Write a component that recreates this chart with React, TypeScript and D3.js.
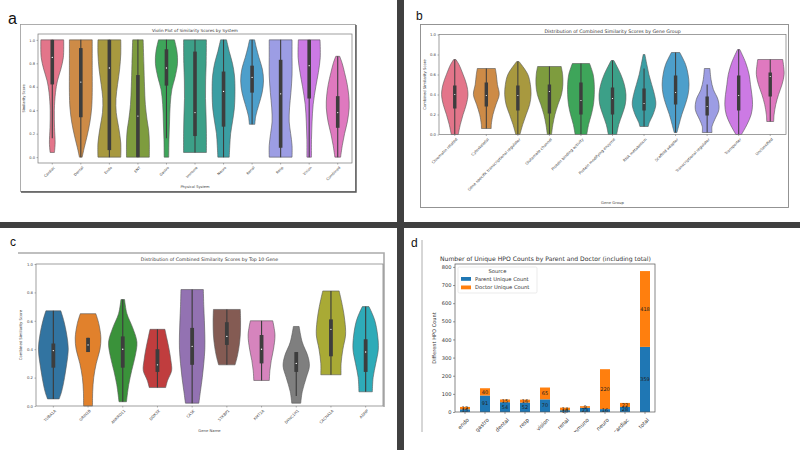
import React, { useEffect, useRef } from "react";
import * as d3 from "d3";

// ---- panel a: similarity by physical system ----
const systems = ["Cardiac", "Dental", "Endo", "ENT", "Gastro", "Immune", "Neuro", "Renal", "Resp", "Vision", "Combined"];
const huslColors = ["#e3758a", "#cd8b47", "#a8993f", "#7e9c3e", "#3ea55a", "#3ca088", "#3b9ea3", "#4d9fcb", "#9c9de4", "#cc7ae4", "#df79bf"];
// [value, relative half width]
const systemProfiles = [
  [[0.04, 0.19], [0.12, 0.25], [0.25, 0.2], [0.4, 0.18], [0.55, 0.28], [0.65, 0.45], [0.75, 0.75], [0.85, 0.97], [1.0, 1]],
  [[0, 0.12], [0.08, 0.3], [0.18, 0.55], [0.3, 0.8], [0.42, 0.95], [0.55, 1], [0.75, 1], [1, 1]],
  [[0, 1], [0.12, 1], [0.25, 0.82], [0.38, 0.6], [0.5, 0.58], [0.62, 0.72], [0.75, 0.9], [0.88, 1], [1, 1]],
  [[0, 1], [0.12, 1], [0.22, 0.95], [0.32, 0.8], [0.45, 0.65], [0.6, 0.58], [0.8, 0.52], [1, 0.46]],
  [[0, 0.2], [0.15, 0.22], [0.3, 0.27], [0.45, 0.33], [0.58, 0.48], [0.68, 0.75], [0.8, 0.97], [0.9, 0.92], [1, 0.7]],
  [[0.04, 1], [0.2, 1], [0.35, 0.97], [0.5, 0.92], [0.65, 0.93], [0.8, 0.98], [1, 1]],
  [[0, 0.5], [0.1, 0.55], [0.2, 0.62], [0.3, 0.78], [0.42, 0.95], [0.6, 1], [0.7, 0.95], [0.8, 0.78], [0.9, 0.5], [1, 0.26]],
  [[0.28, 0.24], [0.35, 0.32], [0.45, 0.6], [0.55, 0.88], [0.65, 1], [0.75, 0.9], [0.85, 0.6], [0.93, 0.38], [1, 0.22]],
  [[0, 1], [0.1, 1], [0.2, 0.88], [0.3, 0.75], [0.42, 0.78], [0.55, 0.9], [0.7, 1], [0.85, 1], [1, 1]],
  [[0, 0.2], [0.15, 0.2], [0.3, 0.25], [0.45, 0.35], [0.6, 0.58], [0.72, 0.8], [0.85, 0.97], [1, 0.95]],
  [[0, 0.25], [0.1, 0.4], [0.2, 0.6], [0.3, 0.84], [0.42, 1], [0.52, 0.97], [0.62, 0.83], [0.72, 0.6], [0.8, 0.39], [0.86, 0.17]],
];
// [whisker low, q1, median, q3, whisker high]
const systemBoxes = [
  [0.16, 0.62, 0.85, 1.0, 1.0], [0, 0.34, 0.64, 0.93, 1], [0, 0.06, 0.76, 1, 1], [0, 0, 0.35, 0.7, 1],
  [0.16, 0.61, 0.76, 0.92, 1], [0.04, 0.18, 0.38, 0.9, 1], [0, 0.26, 0.56, 0.73, 1], [0.28, 0.55, 0.68, 0.78, 1],
  [0, 0.08, 0.54, 0.83, 1], [0, 0.5, 0.78, 1, 1], [0, 0.25, 0.38, 0.52, 0.86],
];

// ---- panel b: by gene group ----
const geneGroups = ["Chromatin related", "Cytoskeletal", "Gene specific transcriptional regulator", "Glutamate channel",
  "Protein binding activity", "Protein modifying enzyme", "RNA metabolism", "Scaffold adaptor",
  "Transcriptional regulator", "Transporter", "Unclassified"];
const groupProfiles = [
  [[0, 0.25], [0.1, 0.4], [0.2, 0.6], [0.3, 0.83], [0.4, 0.95], [0.5, 0.85], [0.6, 0.6], [0.7, 0.3], [0.75, 0.08]],
  [[0.06, 0.35], [0.1, 0.36], [0.2, 0.48], [0.3, 0.7], [0.4, 0.93], [0.5, 0.8], [0.6, 0.72], [0.66, 0.65]],
  [[0, 0.15], [0.1, 0.35], [0.2, 0.6], [0.3, 0.85], [0.4, 0.95], [0.5, 0.9], [0.6, 0.72], [0.7, 0.25], [0.73, 0.08]],
  [[0, 0.15], [0.1, 0.25], [0.2, 0.4], [0.3, 0.62], [0.4, 0.87], [0.5, 0.97], [0.6, 0.95], [0.68, 0.85]],
  [[0, 0.42], [0.1, 0.55], [0.2, 0.75], [0.3, 0.9], [0.4, 0.96], [0.5, 0.96], [0.6, 0.88], [0.71, 0.62]],
  [[0, 0.3], [0.1, 0.45], [0.2, 0.7], [0.3, 0.92], [0.4, 0.97], [0.5, 0.85], [0.6, 0.6], [0.7, 0.25], [0.74, 0.1]],
  [[0.08, 0.3], [0.12, 0.38], [0.2, 0.65], [0.3, 0.85], [0.4, 0.75], [0.5, 0.55], [0.6, 0.35], [0.7, 0.2], [0.8, 0.06]],
  [[0.02, 0.1], [0.1, 0.25], [0.2, 0.45], [0.3, 0.7], [0.4, 0.9], [0.5, 0.97], [0.6, 0.9], [0.7, 0.72], [0.82, 0.3]],
  [[0.02, 0.35], [0.08, 0.35], [0.15, 0.55], [0.25, 0.85], [0.35, 0.78], [0.45, 0.45], [0.55, 0.28], [0.66, 0.2]],
  [[0, 0.2], [0.1, 0.6], [0.2, 0.9], [0.3, 1], [0.4, 0.95], [0.5, 0.85], [0.6, 0.75], [0.72, 0.5], [0.85, 0.08]],
  [[0.13, 0.25], [0.2, 0.28], [0.3, 0.4], [0.4, 0.6], [0.5, 0.85], [0.6, 1], [0.7, 0.95], [0.75, 0.9]],
];
const groupBoxes = [
  [0, 0.26, 0.4, 0.49, 0.75], [0.06, 0.28, 0.39, 0.52, 0.66], [0, 0.24, 0.39, 0.49, 0.73], [0, 0.21, 0.43, 0.5, 0.68],
  [0, 0.2, 0.34, 0.52, 0.71], [0, 0.2, 0.36, 0.47, 0.74], [0.08, 0.24, 0.31, 0.46, 0.66], [0.02, 0.3, 0.42, 0.59, 0.82],
  [0.02, 0.19, 0.28, 0.38, 0.5], [0, 0.24, 0.39, 0.59, 0.85], [0.13, 0.38, 0.58, 0.62, 0.75],
];

// ---- panel c: top 10 genes ----
const genes = ["TUBA1A", "GRIN2B", "ANKRD11", "DDX3X", "CASK", "STXBP1", "KMT2A", "DYNC1H1", "CACNA1A", "ADNP"];
const tabColors = ["#3274a1", "#e1812c", "#3a923a", "#c03d3e", "#9372b2", "#845b53", "#d684bd", "#7f7f7f", "#a9aa35", "#2eabb8"];
const geneProfiles = [
  [[0.05, 0.39], [0.1, 0.55], [0.2, 0.75], [0.3, 0.9], [0.4, 1], [0.5, 0.9], [0.6, 0.7], [0.67, 0.5]],
  [[0, 0.3], [0.1, 0.31], [0.2, 0.38], [0.3, 0.55], [0.4, 0.8], [0.48, 0.86], [0.58, 0.72], [0.65, 0.52]],
  [[0.03, 0.25], [0.15, 0.4], [0.25, 0.6], [0.35, 0.83], [0.45, 0.95], [0.55, 0.67], [0.65, 0.28], [0.75, 0.12]],
  [[0.13, 0.55], [0.18, 0.68], [0.25, 0.95], [0.32, 0.9], [0.4, 0.78], [0.48, 0.62], [0.54, 0.5]],
  [[0.02, 0.45], [0.1, 0.55], [0.2, 0.68], [0.3, 0.78], [0.4, 0.85], [0.5, 0.85], [0.6, 0.82], [0.7, 0.78], [0.82, 0.75]],
  [[0.29, 0.55], [0.35, 0.7], [0.42, 0.82], [0.5, 0.9], [0.6, 0.92], [0.68, 0.9]],
  [[0.18, 0.52], [0.25, 0.56], [0.32, 0.65], [0.4, 0.8], [0.5, 0.9], [0.6, 0.75]],
  [[0.02, 0.3], [0.1, 0.4], [0.2, 0.67], [0.28, 0.88], [0.35, 0.78], [0.45, 0.4], [0.56, 0.19]],
  [[0.22, 0.68], [0.3, 0.68], [0.4, 0.8], [0.5, 0.98], [0.6, 0.93], [0.7, 0.78], [0.81, 0.55]],
  [[0.1, 0.45], [0.2, 0.5], [0.3, 0.68], [0.4, 0.85], [0.5, 0.8], [0.6, 0.62], [0.66, 0.4], [0.7, 0.22]],
];
const geneBoxes = [
  [0.05, 0.27, 0.39, 0.44, 0.67], [0.38, 0.38, 0.43, 0.48, 0.48], [0.03, 0.27, 0.4, 0.49, 0.75], [0.13, 0.24, 0.29, 0.4, 0.54],
  [0.02, 0.29, 0.42, 0.55, 0.82], [0.29, 0.43, 0.49, 0.59, 0.68], [0.18, 0.3, 0.4, 0.5, 0.6], [0.07, 0.24, 0.3, 0.38, 0.38],
  [0.22, 0.35, 0.54, 0.61, 0.81], [0.1, 0.24, 0.38, 0.47, 0.7],
];

// ---- panel d: unique HPO counts ----
const hpoSystems = ["endo", "gastro", "dental", "resp", "vision", "renal", "immuno", "neuro", "cardiac", "total"];
const parentCounts = [15, 91, 54, 52, 70, 10, 23, 16, 28, 359];
const doctorCounts = [13, 40, 15, 16, 65, 14, 9, 220, 22, 418];
const hpoKeys = ["Parent Unique Count", "Doctor Unique Count"];
const hpoColors = ["#1f77b4", "#ff7f0e"];
const hpoTicks = [0, 100, 200, 300, 400, 500, 600, 700, 800];
const unitTicks = [0, 0.2, 0.4, 0.6, 0.8, 1.0];

const FONT = "DejaVu Sans, sans-serif";

function drawViolinPanel(svg: any, o: any) {
  const g = svg.append("g");
  const x = d3.scaleBand().domain(o.cats).range([o.left, o.right]);
  const y = d3.scaleLinear().domain(o.yDomain).range([o.bottom, o.top]);
  const hw = x.bandwidth() * o.widthFrac;
  const bw = o.boxW;

  o.cats.forEach((c: string, i: number) => {
    const cx = (x(c) as number) + x.bandwidth() / 2;
    const area = d3
      .area<number[]>()
      .y((d) => y(d[0]))
      .x0((d) => cx - d[1] * hw)
      .x1((d) => cx + d[1] * hw)
      .curve(d3.curveCatmullRom.alpha(0.5));
    g.append("path")
      .attr("d", area(o.profiles[i]))
      .attr("fill", o.colors[i])
      .attr("stroke", "#555")
      .attr("stroke-width", 0.6);
    const [lo, q1, med, q3, hi] = o.boxes[i];
    g.append("line")
      .attr("x1", cx).attr("x2", cx)
      .attr("y1", y(lo)).attr("y2", y(hi))
      .attr("stroke", "#3d3d3d")
      .attr("stroke-width", bw * 0.3);
    g.append("rect")
      .attr("x", cx - bw / 2)
      .attr("width", bw)
      .attr("y", y(q3))
      .attr("height", Math.max(0.5, y(q1) - y(q3)))
      .attr("fill", "#3d3d3d");
    g.append("circle")
      .attr("cx", cx).attr("cy", y(med))
      .attr("r", bw * 0.18)
      .attr("fill", "white");
  });

  g.append("rect")
    .attr("x", o.left).attr("y", o.top)
    .attr("width", o.right - o.left).attr("height", o.bottom - o.top)
    .attr("fill", "none").attr("stroke", "#777").attr("stroke-width", 0.7);

  const ya = g.append("g")
    .attr("transform", `translate(${o.left},0)`)
    .call(d3.axisLeft(y).tickValues(unitTicks).tickFormat(d3.format(".1f")).tickSize(1.5).tickPadding(1.5));
  ya.select(".domain").remove();
  ya.selectAll("line").attr("stroke", "#666").attr("stroke-width", 0.5);
  ya.selectAll("text").attr("font-size", o.fs).attr("font-family", FONT).attr("fill", "#444");

  const xa = g.append("g")
    .attr("transform", `translate(0,${o.bottom})`)
    .call(d3.axisBottom(x).tickSize(1.5));
  xa.select(".domain").remove();
  xa.selectAll("line").attr("stroke", "#666").attr("stroke-width", 0.5);
  xa.selectAll("text")
    .attr("y", 0).attr("x", 0).attr("dy", "0.35em")
    .attr("transform", `translate(2,${o.fs * 1.1}) rotate(-45)`)
    .attr("text-anchor", "end")
    .attr("font-size", o.fs).attr("font-family", FONT).attr("fill", "#444");

  g.append("text")
    .attr("x", (o.left + o.right) / 2).attr("y", o.titleY)
    .attr("text-anchor", "middle")
    .attr("font-size", o.titleFs).attr("font-family", FONT).attr("fill", "#333")
    .text(o.title);
  g.append("text")
    .attr("x", (o.left + o.right) / 2).attr("y", o.xLabelY)
    .attr("text-anchor", "middle")
    .attr("font-size", o.fs).attr("font-family", FONT).attr("fill", "#444")
    .text(o.xLabel);
  g.append("text")
    .attr("transform", `translate(${o.yLabelX},${(o.top + o.bottom) / 2}) rotate(-90)`)
    .attr("text-anchor", "middle")
    .attr("font-size", o.fs).attr("font-family", FONT).attr("fill", "#444")
    .text(o.yLabel);
}

function drawBars(svg: any) {
  const left = 455, right = 655, top = 264, bottom = 412;
  svg.append("defs").append("clipPath").attr("id", "clipd")
    .append("rect").attr("x", 404).attr("y", 228).attr("width", 396).attr("height", 204);
  const g = svg.append("g").attr("clip-path", "url(#clipd)");

  const table = hpoSystems.map((s, i) => ({ name: s, [hpoKeys[0]]: parentCounts[i], [hpoKeys[1]]: doctorCounts[i] }));
  const stacked = d3.stack<any>().keys(hpoKeys)(table);
  const x = d3.scaleBand().domain(hpoSystems).range([left, right]).paddingInner(0.5).paddingOuter(0.25);
  const y = d3.scaleLinear().domain([0, 816]).range([bottom, top]);

  stacked.forEach((layer: any, k: number) => {
    g.selectAll(null)
      .data(layer)
      .join("rect")
      .attr("x", (d: any) => x(d.data.name))
      .attr("width", x.bandwidth())
      .attr("y", (d: any) => y(d[1]))
      .attr("height", (d: any) => y(d[0]) - y(d[1]))
      .attr("fill", hpoColors[k]);
  });
  // segment labels, centred in each stack segment
  stacked.forEach((layer: any) => {
    g.selectAll(null)
      .data(layer)
      .join("text")
      .attr("x", (d: any) => (x(d.data.name) as number) + x.bandwidth() / 2)
      .attr("y", (d: any) => (y(d[0]) + y(d[1])) / 2)
      .attr("dy", "0.35em")
      .attr("text-anchor", "middle")
      .attr("font-size", 5).attr("font-family", FONT).attr("fill", "#222")
      .text((d: any) => d[1] - d[0]);
  });

  g.append("rect")
    .attr("x", left).attr("y", top).attr("width", right - left).attr("height", bottom - top)
    .attr("fill", "none").attr("stroke", "#555").attr("stroke-width", 0.7);

  const ya = g.append("g").attr("transform", `translate(${left},0)`)
    .call(d3.axisLeft(y).tickValues(hpoTicks).tickSize(2).tickPadding(1.5));
  ya.select(".domain").remove();
  ya.selectAll("line").attr("stroke", "#555").attr("stroke-width", 0.6);
  ya.selectAll("text").attr("font-size", 5.1).attr("font-family", FONT).attr("fill", "#333");

  const xa = g.append("g").attr("transform", `translate(0,${bottom})`)
    .call(d3.axisBottom(x).tickSize(2));
  xa.select(".domain").remove();
  xa.selectAll("line").attr("stroke", "#555").attr("stroke-width", 0.6);
  xa.selectAll("text")
    .attr("y", 0).attr("x", 0).attr("dy", "0.35em")
    .attr("transform", "translate(3,7) rotate(-45)")
    .attr("text-anchor", "end")
    .attr("font-size", 5.3).attr("font-family", FONT).attr("fill", "#333");

  g.append("text")
    .attr("x", 440).attr("y", 260.5)
    .attr("font-size", 6.1).attr("font-family", FONT).attr("fill", "#333")
    .text("Number of Unique HPO Counts by Parent and Doctor (including total)");
  g.append("text")
    .attr("transform", `translate(436,338) rotate(-90)`)
    .attr("text-anchor", "middle")
    .attr("font-size", 5.1).attr("font-family", FONT).attr("fill", "#333")
    .text("Different HPO Count");

  // legend
  const lg = g.append("g");
  lg.append("rect").attr("x", 458).attr("y", 267).attr("width", 79).attr("height", 26).attr("rx", 1.5)
    .attr("fill", "white").attr("stroke", "#ddd").attr("stroke-width", 0.6);
  lg.append("text").attr("x", 497.5).attr("y", 273).attr("text-anchor", "middle")
    .attr("font-size", 5.2).attr("font-family", FONT).attr("fill", "#333").text("Source");
  hpoKeys.forEach((k, i) => {
    lg.append("rect").attr("x", 461).attr("y", 277 + i * 8.5).attr("width", 10).attr("height", 3.8).attr("fill", hpoColors[i]);
    lg.append("text").attr("x", 475).attr("y", 279 + i * 8.5).attr("dy", "0.35em")
      .attr("font-size", 5.2).attr("font-family", FONT).attr("fill", "#333").text(k);
  });

  svg.append("line").attr("x1", 422).attr("x2", 422).attr("y1", 240).attr("y2", 432)
    .attr("stroke", "#999").attr("stroke-width", 0.8);
}

export default function App() {
  const ref = useRef<SVGSVGElement>(null);

  useEffect(() => {
    const svg = d3.select(ref.current);
    svg.selectAll("*").remove();
    svg.append("rect").attr("width", 800).attr("height", 450).attr("fill", "white");

    // panel a frame
    svg.append("rect").attr("x", 20.5).attr("y", 24.5).attr("width", 335).attr("height", 167)
      .attr("fill", "white").attr("stroke", "#999").attr("stroke-width", 0.8);
    svg.append("path").attr("d", "M21,192 H356 V25").attr("fill", "none").attr("stroke", "#555").attr("stroke-width", 1.4);
    drawViolinPanel(svg, {
      cats: systems, colors: huslColors, profiles: systemProfiles, boxes: systemBoxes,
      left: 38, right: 352, top: 34, bottom: 163, yDomain: [-0.05, 1.05], widthFrac: 0.4, boxW: 3.6,
      fs: 3.6, titleFs: 4.2, title: "Violin Plot of Similarity Scores by System", titleY: 32,
      xLabel: "Physical System", xLabelY: 188, yLabel: "Similarity Score", yLabelX: 25,
    });

    // panel b frame
    svg.append("rect").attr("x", 420.5).attr("y", 24.5).attr("width", 368).attr("height", 183)
      .attr("fill", "white").attr("stroke", "#888").attr("stroke-width", 0.9);
    drawViolinPanel(svg, {
      cats: geneGroups, colors: huslColors, profiles: groupProfiles, boxes: groupBoxes,
      left: 439, right: 786, top: 34.5, bottom: 134.5, yDomain: [0, 1], widthFrac: 0.44, boxW: 3.4,
      fs: 3.8, titleFs: 4.7, title: "Distribution of Combined Similarity Scores by Gene Group", titleY: 32.5,
      xLabel: "Gene Group", xLabelY: 204, yLabel: "Combined Similarity Score", yLabelX: 426,
    });

    // panel c frame
    svg.append("path").attr("d", "M18,253 H384 V407").attr("fill", "none").attr("stroke", "#aaa").attr("stroke-width", 1.6);
    drawViolinPanel(svg, {
      cats: genes, colors: tabColors, profiles: geneProfiles, boxes: geneBoxes,
      left: 36, right: 383, top: 264, bottom: 406, yDomain: [0, 1], widthFrac: 0.43, boxW: 3.8,
      fs: 3.8, titleFs: 4.7, title: "Distribution of Combined Similarity Scores by Top 10 Gene", titleY: 260.5,
      xLabel: "Gene Name", xLabelY: 432, yLabel: "Combined Similarity Score", yLabelX: 22,
    });

    drawBars(svg);

    // separators
    svg.append("rect").attr("x", 397).attr("y", 0).attr("width", 7).attr("height", 450).attr("fill", "#404040");
    svg.append("rect").attr("x", 0).attr("y", 222).attr("width", 800).attr("height", 6).attr("fill", "#404040");

    // panel letters
    const letters = [["a", 8, 24, 16], ["b", 416, 20, 12], ["c", 10, 246, 12], ["d", 411, 247, 12]];
    letters.forEach(([t, lx, ly, fs]) => {
      svg.append("text").attr("x", lx).attr("y", ly)
        .attr("font-size", fs).attr("font-family", "Liberation Sans, Arial, sans-serif").attr("fill", "#111")
        .text(t as string);
    });
  }, []);

  return (
    <svg
      ref={ref}
      width={800}
      height={450}
      style={{ position: "fixed", left: 0, top: 0, display: "block" }}
    ></svg>
  );
}
